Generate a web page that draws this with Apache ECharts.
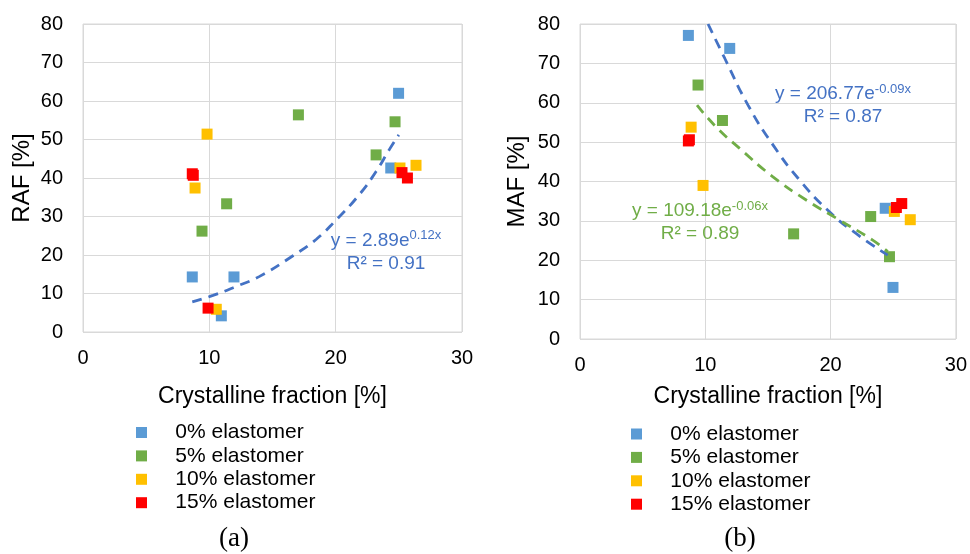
<!DOCTYPE html>
<html>
<head>
<meta charset="utf-8">
<script src="https://cdn.jsdelivr.net/npm/echarts@6/dist/echarts.min.js"></script>
<style>
  html, body { margin: 0; padding: 0; background: #fff; }
  #chart { width: 970px; height: 554px; }
</style>
</head>
<body>
<div id="chart"></div>
<script>
// crystalline fraction (x) shared by both panels, RAF / MAF
const names = ['0% elastomer', '5% elastomer', '10% elastomer', '15% elastomer'];
const colors = ['#5B9BD5', '#70AD47', '#FFC000', '#FF0000'];

const cf0  = [8.65, 11.95, 10.95, 24.36, 24.98];
const raf0 = [14.3, 14.3, 4.2, 42.6, 62.0];
const maf0 = [77.1, 73.8, null, 33.2, 13.1];

const cf5  = [17.05, 24.7, 23.2, 11.37, 9.42];
const raf5 = [56.4, 54.6, 46.0, 33.3, 26.2];
const maf5 = [26.7, 20.9, 31.1, 55.5, 64.5];

const cf10  = [9.82, 8.87, 25.09, 26.36, 10.55];
const raf10 = [51.4, 37.4, 42.6, 43.3, 5.9];
const maf10 = [39.0, 53.8, 32.4, 30.3, null];

const cf15  = [8.65, 8.73, 25.25, 25.68, 9.9];
const raf15 = [41.1, 40.7, 41.4, 40.0, 6.2];
const maf15 = [50.3, 50.6, 33.4, 34.4, null];

// exponential trendlines
const rafTrendX = [8.65, 10.29, 12.14, 13.98, 16.62, 18.47, 20.05, 21.9, 23.2, 24.27, 25.0];
const rafTrendY = [7.8, 9.5, 11.85, 14.45, 19.8, 24.1, 29.15, 35.8, 41.7, 47.5, 51.2];
const mafTrend0X = [10.22, 11.55, 13.41, 15.4, 17.52, 19.91, 22.03, 24.56];
const mafTrend0Y = [80.0, 71.3, 59.4, 49.3, 40.4, 32.3, 26.8, 21.3];
const mafTrend5X = [9.34, 10.88, 12.74, 15.4, 18.05, 20.71, 23.36, 24.56];
const mafTrend5Y = [59.4, 53.8, 48.4, 41.2, 35.3, 30.2, 25.1, 22.2];

const FONT = 'Liberation Sans, Arial, sans-serif';
const GRID_COLOR = '#d9d9d9';

const cfs  = [cf0, cf5, cf10, cf15];
const rafs = [raf0, raf5, raf10, raf15];
const mafs = [maf0, maf5, maf10, maf15];

function pairs(xs, ys) {
  return xs.map((x, i) => [x, ys[i]]).filter((p) => p[1] != null);
}

function xAxis(gridIndex, nameGap) {
  return {
    type: 'value', gridIndex, min: 0, max: 30, interval: 10,
    name: 'Crystalline fraction [%]', nameLocation: 'middle', nameGap,
    nameTextStyle: { fontFamily: FONT, fontSize: 23, color: '#000' },
    axisLine: { show: false }, axisTick: { show: false },
    axisLabel: { fontFamily: FONT, fontSize: 20, color: '#000', margin: 16 },
    splitLine: { lineStyle: { color: GRID_COLOR, width: 1 } },
  };
}

function yAxis(gridIndex, name, nameGap) {
  return {
    type: 'value', gridIndex, min: 0, max: 80, interval: 10,
    name, nameLocation: 'middle', nameGap,
    nameTextStyle: { fontFamily: FONT, fontSize: 24, color: '#000' },
    axisLine: { show: false }, axisTick: { show: false },
    axisLabel: { fontFamily: FONT, fontSize: 20, color: '#000', margin: 20 },
    splitLine: { lineStyle: { color: GRID_COLOR, width: 1 } },
  };
}

function legend(left, top) {
  return {
    orient: 'vertical', left, top,
    data: names, icon: 'rect', itemWidth: 11, itemHeight: 11, itemGap: 2.4,
    formatter: (n) => '    ' + n,
    textStyle: { fontFamily: FONT, fontSize: 21, lineHeight: 21, color: '#000' },
    selectedMode: false,
  };
}

function trend(name, xs, ys, color, idx) {
  return {
    name, type: 'line', xAxisIndex: idx, yAxisIndex: idx,
    data: pairs(xs, ys), smooth: true, showSymbol: false, z: 5,
    lineStyle: { color, width: 2.8, type: [10, 7] },
    silent: true,
  };
}

function eqText(x, y, eq, sup, r2, color) {
  return {
    type: 'text', x, y, z: 10,
    style: {
      text: '{m|' + eq + '}{s|' + sup + '}\n{m|' + r2 + '}',
      align: 'center', verticalAlign: 'middle',
      fill: color,
      rich: {
        m: { fontFamily: FONT, fontSize: 19, lineHeight: 23, fill: color },
        s: { fontFamily: FONT, fontSize: 13, lineHeight: 16, fill: color, verticalAlign: 'top' },
      },
    },
  };
}

const series = [];
names.forEach((n, i) => {
  series.push({
    name: n, type: 'scatter', xAxisIndex: 0, yAxisIndex: 0,
    symbol: 'rect', symbolSize: 11, itemStyle: { color: colors[i], opacity: 1 },
    data: pairs(cfs[i], rafs[i]),
  });
});
names.forEach((n, i) => {
  series.push({
    name: n, type: 'scatter', xAxisIndex: 1, yAxisIndex: 1,
    symbol: 'rect', symbolSize: 11, itemStyle: { color: colors[i], opacity: 1 },
    data: pairs(cfs[i], mafs[i]),
  });
});
series.push(trend('RAF trend 0%', rafTrendX, rafTrendY, '#4472C4', 0));
series.push(trend('MAF trend 0%', mafTrend0X, mafTrend0Y, '#4472C4', 1));
series.push(trend('MAF trend 5%', mafTrend5X, mafTrend5Y, '#70AD47', 1));

const chart = echarts.init(document.getElementById('chart'), null, { renderer: 'canvas' });
chart.setOption({
  backgroundColor: '#fff',
  animation: false,
  grid: [
    { left: 83, top: 24, width: 379, height: 308, show: true, borderColor: GRID_COLOR, borderWidth: 1 },
    { left: 580, top: 24, width: 377, height: 315, show: true, borderColor: GRID_COLOR, borderWidth: 1 },
  ],
  xAxis: [xAxis(0, 53), xAxis(1, 46)],
  yAxis: [yAxis(0, 'RAF [%]', 49), yAxis(1, 'MAF [%]', 51)],
  legend: [legend(131, 417), legend(626, 418.5)],
  series,
  graphic: [
    eqText(386, 252, 'y = 2.89e', '0.12x', 'R² = 0.91', '#4472C4'),
    eqText(843, 105.5, 'y = 206.77e', '-0.09x', 'R² = 0.87', '#4472C4'),
    eqText(700, 222.7, 'y = 109.18e', '-0.06x', 'R² = 0.89', '#70AD47'),
    { type: 'text', x: 234, y: 539, style: { text: '(a)', font: '27px "Liberation Serif", "Times New Roman", serif', fill: '#000', align: 'center', verticalAlign: 'middle' } },
    { type: 'text', x: 740, y: 539, style: { text: '(b)', font: '27px "Liberation Serif", "Times New Roman", serif', fill: '#000', align: 'center', verticalAlign: 'middle' } },
  ],
});
</script>
</body>
</html>
